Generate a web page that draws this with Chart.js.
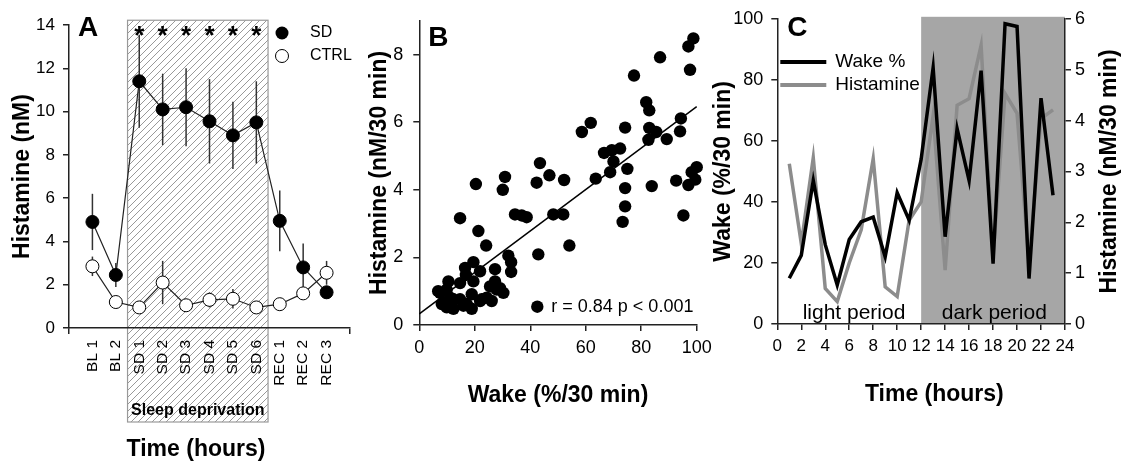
<!DOCTYPE html>
<html>
<head>
<meta charset="utf-8">
<script src="https://cdn.jsdelivr.net/npm/chart.js@4.4.0/dist/chart.umd.min.js"></script>
<style>
  html, body { margin: 0; padding: 0; background: #fff; }
  #wrap { position: relative; width: 1123px; height: 465px; overflow: hidden; }
  canvas { position: absolute; top: 0; }
</style>
</head>
<body>
<div id="wrap">
  <canvas id="chartA" width="380" height="465" style="left:0px"></canvas>
  <canvas id="chartB" width="360" height="465" style="left:360px"></canvas>
  <canvas id="chartC" width="423" height="465" style="left:700px"></canvas>
</div>
<script>
// ---- Panel A: histamine per time bin ----
const timeLabelsA = ["BL 1", "BL 2", "SD 1", "SD 2", "SD 3", "SD 4", "SD 5", "SD 6", "REC 1", "REC 2", "REC 3"];
const sdMean = [4.9, 2.45, 11.4, 10.1, 10.2, 9.55, 8.9, 9.5, 4.95, 2.8, 1.65];
const sdErr = [1.3, 0.55, 2.15, 1.65, 1.8, 1.95, 1.55, 1.9, 1.4, 1.1, 0.3];
const ctrlMean = [2.85, 1.2, 0.95, 2.1, 1.05, 1.3, 1.35, 0.95, 1.1, 1.6, 2.55];
const ctrlErr = [0.45, 0.1, 0.1, 1.0, 0.2, 0.35, 0.45, 0.15, 0.15, 0.2, 0.55];
const starLabels = ["SD 1", "SD 2", "SD 3", "SD 4", "SD 5", "SD 6"];

// ---- Panel B: wake vs histamine ----
const wakeB = [98.8, 97.0, 97.6, 86.8, 77.4, 81.8, 82.9, 94.3, 94.0, 89.2, 82.6, 82.9, 85.4, 74.2, 61.8, 58.6,
  72.4, 69.4, 66.6, 70.0, 75.0, 68.8, 63.6, 74.2, 83.8, 92.6, 97.0, 98.2, 100, 99.5, 74.2, 73.3, 95.2,
  43.5, 46.9, 42.3, 52.2, 30.9, 30.1, 20.4, 14.7, 34.5, 36.9, 38.7, 48.3, 51.9, 21.3, 24.1, 42.9, 54.1,
  32.1, 33.1, 33.1, 27.3, 21.9, 19.5, 16.5, 16.8, 19.5, 14.7, 10.5, 7.5, 9.9, 8.7, 11.1, 12.3, 14.7,
  17.1, 18.9, 18.9, 21.9, 24.3, 26.1, 25.5, 27.3, 27.9, 30.3, 29.1, 6.8, 8.1, 9.9, 15.9, 22.5, 12.3];
const histB = [8.48, 8.24, 7.55, 7.92, 7.38, 6.59, 6.35, 6.11, 5.73, 5.50, 5.48, 5.83, 5.71, 5.84, 5.98, 5.71,
  5.22, 5.17, 5.09, 4.84, 4.62, 4.52, 4.33, 4.05, 4.11, 4.27, 4.14, 4.52, 4.67, 4.30, 3.51, 3.05, 3.24,
  4.79, 4.43, 4.21, 4.29, 4.38, 4.00, 4.17, 3.16, 3.27, 3.24, 3.19, 3.27, 3.27, 2.78, 2.35, 2.09, 2.35,
  2.05, 1.86, 1.57, 1.65, 1.59, 1.86, 1.69, 1.48, 1.29, 1.24, 1.29, 0.95, 1.05, 0.67, 0.81, 0.48, 0.76,
  0.62, 0.48, 0.91, 0.71, 0.81, 0.71, 1.14, 1.29, 1.05, 0.95, 1.09, 1.0, 0.62, 0.52, 0.57, 0.76, 0.76];
const fitX = [0, 100];
const fitY = [0.33, 6.46];
const statText = "r = 0.84 p < 0.001";

// ---- Panel C: time course ----
const hoursC = [1, 2, 3, 4, 5, 6, 7, 8, 9, 10, 11, 12, 13, 14, 15, 16, 17, 18, 19, 20, 21, 22, 23];
const wakeC = [15, 22.5, 47, 26, 12.8, 27.7, 33.5, 35, 22, 43, 34, 54, 84, 28.6, 64, 47, 83, 19.8, 98.4, 97.5, 14.9, 74, 42.2];
const histC = [3.15, 1.58, 3.27, 0.7, 0.44, 1.2, 1.85, 3.25, 0.73, 0.54, 2.04, 2.4, 4.1, 1.06, 4.3, 4.43, 5.48, 1.32, 4.53, 4.14, 1.19, 4.04, 4.21];

const FONT = '"Liberation Sans", Arial, Helvetica, sans-serif';
Chart.defaults.font.family = FONT;
Chart.defaults.color = "#000";
const AXIS = "#222";

function axisStyle(extra) {
  return Object.assign({
    grid: { drawOnChartArea: false, drawTicks: true, tickLength: 6, color: AXIS, lineWidth: 1.5 },
    border: { display: true, color: AXIS, width: 1.5 },
  }, extra);
}

function text(ctx, str, x, y, font, align, base, rot) {
  ctx.save();
  ctx.font = font;
  ctx.fillStyle = "#000";
  ctx.textAlign = align || "left";
  ctx.textBaseline = base || "alphabetic";
  ctx.translate(x, y);
  if (rot) ctx.rotate(rot);
  ctx.fillText(str, 0, 0);
  ctx.restore();
}

// hatch pattern for the sleep deprivation box
const hatch = document.createElement("canvas");
hatch.width = 7;
hatch.height = 7;
(function () {
  const g = hatch.getContext("2d");
  g.fillStyle = "#fff";
  g.fillRect(0, 0, 7, 7);
  g.strokeStyle = "#999";
  g.lineWidth = 1;
  g.beginPath();
  g.moveTo(0, 7); g.lineTo(7, 0);
  g.moveTo(-3.5, 3.5); g.lineTo(3.5, -3.5);
  g.moveTo(3.5, 10.5); g.lineTo(10.5, 3.5);
  g.stroke();
})();

const sleepBox = {
  id: "sleepBox",
  beforeDraw(chart) {
    const { ctx, chartArea, scales: { x, y } } = chart;
    const l = x.getPixelForValue(2.5), r = x.getPixelForValue(8.5);
    const t = y.getPixelForValue(14.22), b = chartArea.bottom + 94;
    ctx.save();
    ctx.fillStyle = ctx.createPattern(hatch, "repeat");
    ctx.fillRect(l, t, r - l, b - t);
    ctx.strokeStyle = "#999";
    ctx.lineWidth = 1.2;
    ctx.strokeRect(l, t, r - l, b - t);
    ctx.restore();
    text(ctx, "Sleep deprivation", (l + r) / 2, b - 11, "bold 16px " + FONT, "center", "middle");
  },
};

const errorBars = {
  id: "errorBars",
  beforeDatasetsDraw(chart) {
    const { ctx, scales: { x, y } } = chart;
    ctx.save();
    ctx.strokeStyle = "#333";
    ctx.lineWidth = 1.5;
    chart.data.datasets.forEach((ds) => {
      if (!ds.err) return;
      ds.data.forEach((p, i) => {
        const px = x.getPixelForValue(p.x);
        ctx.beginPath();
        ctx.moveTo(px, y.getPixelForValue(p.y - ds.err[i]));
        ctx.lineTo(px, y.getPixelForValue(p.y + ds.err[i]));
        ctx.stroke();
      });
    });
    ctx.restore();
  },
};

const decorA = {
  id: "decorA",
  afterDraw(chart) {
    const { ctx, chartArea, scales: { x } } = chart;
    text(ctx, "A", chartArea.left + 9, chartArea.top + 11, "bold 28px " + FONT);
    starLabels.forEach((lab) => {
      const px = x.getPixelForValue(timeLabelsA.indexOf(lab) + 1);
      text(ctx, "*", px, chartArea.top + 19, "bold 26px " + FONT, "center");
    });
    // legend
    ctx.save();
    ctx.lineWidth = 1;
    ctx.strokeStyle = "#000";
    ctx.fillStyle = "#000";
    ctx.beginPath(); ctx.arc(282, 33, 6.5, 0, Math.PI * 2); ctx.fill();
    ctx.fillStyle = "#fff";
    ctx.beginPath(); ctx.arc(282, 56, 6.5, 0, Math.PI * 2); ctx.fill(); ctx.stroke();
    ctx.restore();
    text(ctx, "SD", 310, 33, "16px " + FONT, "left", "middle");
    text(ctx, "CTRL", 310, 56, "16px " + FONT, "left", "middle");
    text(ctx, "Time (hours)", 196, 450, "bold 23px " + FONT, "center", "middle");
  },
};

new Chart(document.getElementById("chartA"), {
  type: "scatter",
  data: {
    datasets: [
      {
        label: "SD",
        data: sdMean.map((v, i) => ({ x: i + 1, y: v })),
        err: sdErr,
        showLine: true,
        borderColor: "#222",
        borderWidth: 1.2,
        pointRadius: 6.5,
        pointBackgroundColor: "#000",
        pointBorderColor: "#000",
        pointBorderWidth: 1,
        clip: false,
      },
      {
        label: "CTRL",
        data: ctrlMean.map((v, i) => ({ x: i + 1, y: v })),
        err: ctrlErr,
        showLine: true,
        borderColor: "#222",
        borderWidth: 1.2,
        pointRadius: 6.5,
        pointBackgroundColor: "#fff",
        pointBorderColor: "#000",
        pointBorderWidth: 1,
        clip: false,
      },
    ],
  },
  options: {
    responsive: false,
    animation: false,
    devicePixelRatio: 1,
    layout: { padding: { left: 0, right: 30, top: 25, bottom: 0 } },
    plugins: { legend: { display: false }, tooltip: { enabled: false } },
    scales: {
      x: axisStyle({
        type: "linear",
        min: 0,
        max: 12,
        grid: {
          drawOnChartArea: false, drawTicks: true, tickLength: 6, lineWidth: 1.5,
          color: (c) => (c.tick && (c.tick.value === 0 || c.tick.value === 12) ? AXIS : "rgba(0,0,0,0)"),
        },
        ticks: {
          stepSize: 1, autoSkip: false, minRotation: 90, maxRotation: 90, padding: 6,
          font: { size: 15.5 },
          callback: (v) => timeLabelsA[v - 1] || "",
        },
        afterFit: (s) => { s.height = 137; },
      }),
      y: axisStyle({
        min: 0,
        max: 14,
        ticks: { stepSize: 2, padding: 8, font: { size: 17 } },
        title: { display: true, text: "Histamine (nM)", font: { size: 23, weight: "bold" }, padding: { top: 9, bottom: 0 } },
        afterFit: (s) => { s.width = 69; },
      }),
    },
  },
  plugins: [sleepBox, errorBars, decorA],
});

// ---- Panel B ----
const decorB = {
  id: "decorB",
  afterDraw(chart) {
    const { ctx, chartArea } = chart;
    text(ctx, "B", chartArea.left + 9, chartArea.top + 25, "bold 28px " + FONT);
    const lx = chartArea.left + 118, ly = chartArea.bottom - 18.3;
    ctx.save();
    ctx.fillStyle = "#000";
    ctx.beginPath(); ctx.arc(lx, ly, 6.2, 0, Math.PI * 2); ctx.fill();
    ctx.restore();
    text(ctx, statText, lx + 14, ly, "18px " + FONT, "left", "middle");
  },
};

new Chart(document.getElementById("chartB"), {
  type: "scatter",
  data: {
    datasets: [
      {
        label: "fit",
        data: fitX.map((v, i) => ({ x: v, y: fitY[i] })),
        showLine: true,
        borderColor: "#000",
        borderWidth: 1.5,
        pointRadius: 0,
        clip: false,
      },
      {
        label: "samples",
        data: wakeB.map((v, i) => ({ x: v, y: histB[i] })),
        pointRadius: 6.2,
        pointBackgroundColor: "#000",
        pointBorderColor: "#000",
        pointBorderWidth: 0,
        clip: false,
      },
    ],
  },
  options: {
    responsive: false,
    animation: false,
    devicePixelRatio: 1,
    layout: { padding: { left: 0, right: 23.3, top: 10, bottom: 0 } },
    plugins: { legend: { display: false }, tooltip: { enabled: false } },
    scales: {
      x: axisStyle({
        type: "linear",
        min: 0,
        max: 100,
        ticks: { stepSize: 20, padding: 6, maxRotation: 0, font: { size: 18 } },
        title: { display: true, text: "Wake (%/30 min)", font: { size: 23, weight: "bold" }, padding: { top: 0, bottom: 56 } },
        afterFit: (s) => { s.height = 140; },
      }),
      y: axisStyle({
        min: 0,
        max: 9,
        ticks: { stepSize: 2, padding: 10, font: { size: 18 } },
        afterBuildTicks: (s) => { s.ticks = s.ticks.filter((t) => t.value % 2 === 0); },
        title: { display: true, text: "Histamine (nM/30 min)", font: { size: 23, weight: "bold" }, padding: { top: 6, bottom: 0 } },
        afterFit: (s) => { s.width = 59.3; },
      }),
    },
  },
  plugins: [decorB],
});

// ---- Panel C ----
const darkShade = {
  id: "darkShade",
  beforeDraw(chart) {
    const { ctx, chartArea, scales: { x } } = chart;
    const l = x.getPixelForValue(12), r = x.getPixelForValue(24);
    ctx.save();
    ctx.fillStyle = "#a6a6a6";
    ctx.fillRect(l, chartArea.top - 2, r - l, chartArea.bottom - chartArea.top + 2);
    ctx.restore();
  },
};

const decorC = {
  id: "decorC",
  afterDraw(chart) {
    const { ctx, chartArea, scales: { x } } = chart;
    const L = chartArea.left;
    text(ctx, "C", L + 10, 36, "bold 28px " + FONT);
    ctx.save();
    ctx.lineWidth = 4;
    ctx.strokeStyle = "#000";
    ctx.beginPath(); ctx.moveTo(L + 3, 62); ctx.lineTo(L + 49, 62); ctx.stroke();
    ctx.strokeStyle = "#8c8c8c";
    ctx.beginPath(); ctx.moveTo(L + 3, 85); ctx.lineTo(L + 49, 85); ctx.stroke();
    ctx.restore();
    text(ctx, "Wake %", L + 58, 62, "19px " + FONT, "left", "middle");
    text(ctx, "Histamine", L + 58, 85, "19px " + FONT, "left", "middle");
    text(ctx, "light period", x.getPixelForValue(6.4), chartArea.bottom - 5, "21px " + FONT, "center");
    text(ctx, "dark period", x.getPixelForValue(18.1), chartArea.bottom - 5, "21px " + FONT, "center");
    text(ctx, "Time (hours)", x.getPixelForValue(13.1), 395, "bold 23px " + FONT, "center", "middle");
    text(ctx, "Histamine (nM/30 min)", 410, (chartArea.top + chartArea.bottom) / 2,
      "bold 23px " + FONT, "center", "middle", -Math.PI / 2);
  },
};

new Chart(document.getElementById("chartC"), {
  type: "line",
  data: {
    datasets: [
      {
        label: "Wake %",
        data: hoursC.map((h, i) => ({ x: h, y: wakeC[i] })),
        yAxisID: "y",
        borderColor: "#000",
        borderWidth: 3.5,
        pointRadius: 0,
        tension: 0,
        clip: false,
      },
      {
        label: "Histamine",
        data: hoursC.map((h, i) => ({ x: h, y: histC[i] })),
        yAxisID: "y2",
        borderColor: "#8c8c8c",
        borderWidth: 3.5,
        pointRadius: 0,
        tension: 0,
        clip: false,
      },
    ],
  },
  options: {
    responsive: false,
    animation: false,
    devicePixelRatio: 1,
    layout: { padding: { left: 0, right: 0, top: 18.3, bottom: 0 } },
    plugins: { legend: { display: false }, tooltip: { enabled: false } },
    scales: {
      x: axisStyle({
        type: "linear",
        min: 0,
        max: 24,
        ticks: { stepSize: 2, padding: 6, autoSkip: false, maxRotation: 0, font: { size: 17 } },
        afterFit: (s) => { s.height = 141; },
      }),
      y: axisStyle({
        position: "left",
        min: 0,
        max: 100,
        ticks: { stepSize: 20, padding: 8, font: { size: 18 } },
        title: { display: true, text: "Wake (%/30 min)", font: { size: 23, weight: "bold" }, padding: { top: 10, bottom: 0 } },
        afterFit: (s) => { s.width = 77.3; },
      }),
      y2: axisStyle({
        position: "right",
        min: 0,
        max: 6,
        ticks: { stepSize: 1, padding: 4, font: { size: 18 } },
        afterFit: (s) => { s.width = 58; },
      }),
    },
  },
  plugins: [darkShade, decorC],
});
</script>
</body>
</html>
